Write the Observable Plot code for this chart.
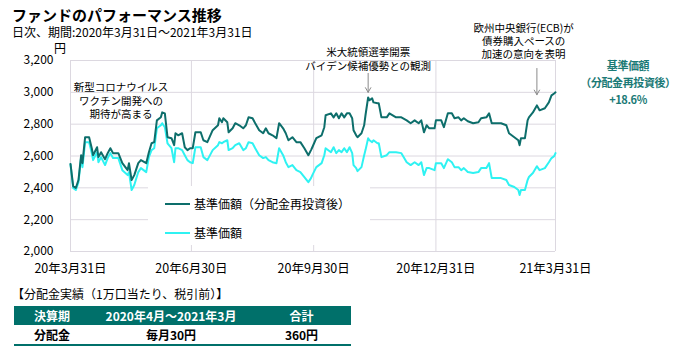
<!DOCTYPE html>
<html><head><meta charset="utf-8">
<script src="https://cdn.jsdelivr.net/npm/d3@7"></script>
<script src="https://cdn.jsdelivr.net/npm/@observablehq/plot@0.6"></script>
<style>
body{margin:0;background:#fff;font-family:"Noto Sans CJK JP","Noto Sans",sans-serif;}
#wrap{position:relative;width:678px;height:358px;overflow:hidden;}
.abs{position:absolute;white-space:nowrap;}
#title{left:12px;top:5px;font-size:15px;font-weight:bold;line-height:20px;}
#sub{left:12px;top:25px;font-size:12px;line-height:14px;}
#unit{left:54px;top:41px;font-size:12px;line-height:13px;}
#chart{position:absolute;left:0;top:0;}
#legend{left:148px;top:186px;width:222px;height:59px;background:#fff;font-size:12px;}
.li{position:absolute;left:17px;display:flex;align-items:center;}
.sw{width:25px;height:2px;margin-right:4px;}
#right{left:579px;top:57px;width:98px;text-align:center;color:#1b7a76;font-weight:bold;font-size:11px;letter-spacing:-0.4px;line-height:17px;}
#tcap{left:12px;top:286px;font-size:12px;line-height:16px;}
table{position:absolute;left:14px;top:306px;width:337px;border-collapse:collapse;font-size:12px;font-weight:bold;}
th{background:#00706a;color:#fff;height:19px;padding:0;}
td{height:19px;padding:0;text-align:center;border-bottom:2px solid #00706a;}
</style></head>
<body><div id="wrap">
<div id="chart"></div>
<div class="abs" id="title">ファンドのパフォーマンス推移</div>
<div class="abs" id="sub">日次、期間:2020年3月31日～2021年3月31日</div>
<div class="abs" id="unit">円</div>
<div class="abs" id="legend"></div>
<div class="abs" id="right"></div>
<div class="abs" id="tcap">【分配金実績（1万口当たり、税引前）】</div>
<table id="tbl"></table>
</div>
<script>
const dates = ["2020-03-31","2020-04-02","2020-04-04","2020-04-06","2020-04-08","2020-04-09","2020-04-11","2020-04-14","2020-04-16","2020-04-17","2020-04-20","2020-04-21","2020-04-23","2020-04-26","2020-04-28","2020-04-30","2020-05-02","2020-05-06","2020-05-09","2020-05-13","2020-05-14","2020-05-16","2020-05-18","2020-05-21","2020-05-23","2020-05-27","2020-05-29","2020-05-31","2020-06-02","2020-06-04","2020-06-07","2020-06-08","2020-06-10","2020-06-12","2020-06-15","2020-06-17","2020-06-18","2020-06-20","2020-06-23","2020-06-25","2020-06-27","2020-06-29","2020-07-01","2020-07-03","2020-07-07","2020-07-09","2020-07-12","2020-07-16","2020-07-20","2020-07-21","2020-07-23","2020-07-24","2020-07-27","2020-07-28","2020-07-31","2020-08-02","2020-08-05","2020-08-08","2020-08-10","2020-08-12","2020-08-15","2020-08-17","2020-08-20","2020-08-23","2020-08-25","2020-08-27","2020-08-30","2020-09-02","2020-09-04","2020-09-07","2020-09-09","2020-09-11","2020-09-14","2020-09-17","2020-09-20","2020-09-23","2020-09-26","2020-09-28","2020-09-29","2020-10-02","2020-10-06","2020-10-08","2020-10-09","2020-10-13","2020-10-15","2020-10-17","2020-10-19","2020-10-21","2020-10-23","2020-10-25","2020-10-27","2020-10-29","2020-10-30","2020-11-01","2020-11-02","2020-11-05","2020-11-07","2020-11-08","2020-11-10","2020-11-11","2020-11-13","2020-11-14","2020-11-17","2020-11-18","2020-11-20","2020-11-24","2020-11-26","2020-12-01","2020-12-05","2020-12-09","2020-12-12","2020-12-15","2020-12-18","2020-12-20","2020-12-22","2020-12-24","2020-12-26","2020-12-30","2020-12-31","2021-01-04","2021-01-06","2021-01-09","2021-01-12","2021-01-14","2021-01-17","2021-01-19","2021-01-21","2021-01-24","2021-01-28","2021-02-01","2021-02-03","2021-02-07","2021-02-09","2021-02-11","2021-02-14","2021-02-18","2021-02-22","2021-02-24","2021-02-28","2021-03-03","2021-03-04","2021-03-05","2021-03-08","2021-03-10","2021-03-11","2021-03-14","2021-03-17","2021-03-19","2021-03-23","2021-03-26","2021-03-28","2021-03-30","2021-03-31"];
const reinvested = [2550,2411,2399,2449,2605,2555,2718,2718,2649,2605,2655,2593,2624,2580,2618,2649,2618,2618,2555,2511,2555,2449,2480,2555,2574,2555,2624,2680,2687,2824,2843,2874,2868,2718,2712,2668,2743,2730,2743,2655,2637,2649,2649,2749,2749,2699,2687,2762,2793,2837,2812,2837,2812,2749,2774,2806,2793,2774,2793,2843,2837,2806,2762,2743,2774,2743,2730,2712,2806,2774,2743,2699,2718,2687,2687,2649,2605,2637,2655,2712,2730,2781,2856,2868,2843,2868,2837,2868,2843,2868,2868,2837,2762,2730,2718,2743,2793,2856,2968,2950,2962,2937,2931,2931,2843,2843,2868,2843,2843,2824,2806,2824,2806,2824,2749,2793,2774,2774,2824,2824,2781,2868,2868,2837,2843,2824,2837,2818,2806,2812,2837,2843,2868,2806,2806,2806,2793,2743,2718,2699,2668,2712,2712,2824,2843,2874,2918,2887,2900,2937,2981,2993,3000];
const nav = [2548,2399,2386,2436,2593,2530,2687,2687,2618,2574,2624,2561,2593,2543,2587,2618,2587,2587,2511,2480,2499,2386,2418,2499,2524,2499,2593,2637,2649,2774,2793,2806,2781,2680,2649,2561,2649,2649,2637,2605,2574,2561,2555,2655,2655,2593,2574,2637,2668,2687,2680,2687,2699,2637,2649,2668,2680,2637,2649,2687,2680,2649,2605,2587,2593,2574,2561,2555,2649,2605,2561,2530,2543,2511,2499,2468,2436,2461,2480,2530,2555,2605,2649,2624,2655,2618,2637,2624,2649,2624,2655,2618,2543,2524,2505,2530,2605,2637,2712,2699,2687,2699,2680,2680,2593,2605,2624,2624,2618,2561,2543,2561,2543,2561,2480,2524,2524,2511,2555,2555,2524,2580,2561,2530,2530,2511,2524,2499,2493,2499,2524,2524,2555,2461,2461,2461,2449,2418,2405,2386,2355,2386,2386,2449,2468,2493,2536,2511,2524,2561,2587,2599,2618];
const seriesNames = ["基準価額（分配金再投資後）","基準価額"];
const seriesColors = ["#0d6e6b","#2ff2f2"];
const yTicks = [2000,2200,2400,2600,2800,3000,3200];
const xTickDates = ["2020-03-31","2020-06-30","2020-09-30","2020-12-31","2021-03-31"];
const xTickLabels = ["20年3月31日","20年6月30日","20年9月30日","20年12月31日","21年3月31日"];
const noteDates = ["2020-05-08","2020-11-10","2021-03-07"];
const noteValues = [2950,3212,3324];
const noteTexts = ["新型コロナウイルス\nワクチン開発への\n期待が高まる","米大統領選挙開票\nバイデン候補優勢との観測","欧州中央銀行(ECB)が\n債券購入ペースの\n加速の意向を表明"];
const arrowDates = ["2020-11-10","2021-03-17"];
const arrowFrom = [3119,3150];
const arrowTo = [3000,2985];
const returnLabel = ["基準価額","（分配金再投資後）","+18.6%"];
const tableHead = ["決算期","2020年4月～2021年3月","合計"];
const tableRow = ["分配金","毎月30円","360円"];

const parse = d3.utcParse("%Y-%m-%d");
const reinvData = dates.map((d,i)=>({date:parse(d), value:reinvested[i]}));
const navData = dates.map((d,i)=>({date:parse(d), value:nav[i]}));
const xTicks = xTickDates.map(parse);
const notes = noteDates.map((d,i)=>({date:parse(d), value:noteValues[i], text:noteTexts[i]}));
const arrows = arrowDates.map((d,i)=>({date:parse(d), from:arrowFrom[i], to:arrowTo[i]}));
const FONT = '"Noto Sans CJK JP","Noto Sans",sans-serif';

const chart = Plot.plot({
  width:678, height:280,
  marginLeft:70, marginRight:123, marginTop:60, marginBottom:29,
  x:{type:"utc", domain:[xTicks[0], xTicks[xTicks.length-1]]},
  y:{domain:[2000,3200]},
  style:{fontFamily:FONT, fontSize:"12px", color:"#000", background:"transparent", overflow:"visible"},
  marks:[
    Plot.gridY(yTicks, {stroke:"#dcd8e0", strokeOpacity:1}),
    Plot.gridX(xTicks, {stroke:"#dcd8e0", strokeOpacity:1}),
    Plot.axisY(yTicks, {tickSize:0, tickPadding:17, tickFormat:d3.format(","), fontSize:12, label:null}),
    Plot.axisX(xTicks, {tickSize:0, tickPadding:13, fontSize:12.5, label:null,
      tickFormat:d=>xTickLabels[xTicks.findIndex(t=>+t===+d)]}),
    Plot.line(navData, {x:"date", y:"value", stroke:seriesColors[1], strokeWidth:2}),
    Plot.line(reinvData, {x:"date", y:"value", stroke:seriesColors[0], strokeWidth:2}),
    Plot.arrow(arrows, {x1:"date", x2:"date", y1:"from", y2:"to", stroke:"#8a8a8a", strokeWidth:1, headLength:8}),
    Plot.text(notes, {x:"date", y:"value", text:"text", fontSize:10.5, lineHeight:1.28, lineAnchor:"middle", fill:"#000"})
  ]
});
document.getElementById("chart").appendChild(chart);

const lg = document.getElementById("legend");
seriesNames.forEach((n,i)=>{
  const row = document.createElement("div");
  row.className="li"; row.style.top = (i===0?9:38)+"px";
  row.innerHTML = `<span class="sw" style="background:${seriesColors[i]}"></span><span>${n}</span>`;
  lg.appendChild(row);
});
document.getElementById("right").innerHTML = returnLabel.join("<br>");
document.getElementById("tbl").innerHTML =
  "<tr>"+tableHead.map((h,i)=>`<th style="width:${[76,162,99][i]}px">${h}</th>`).join("")+"</tr>"+
  "<tr>"+tableRow.map(c=>`<td>${c}</td>`).join("")+"</tr>";
</script>
</body></html>
